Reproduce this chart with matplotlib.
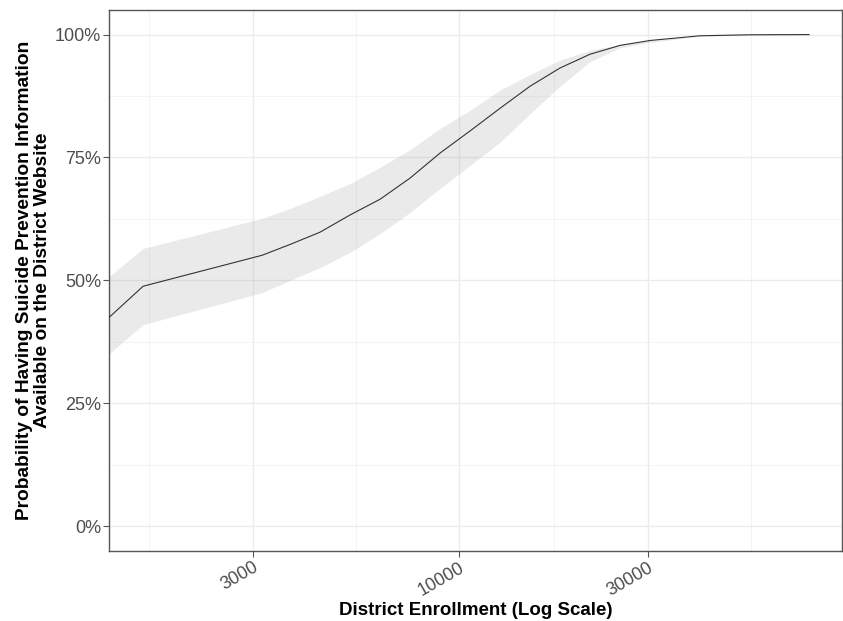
import numpy as np
import matplotlib
matplotlib.use("Agg")
from matplotlib import pyplot as plt
from matplotlib.ticker import FixedLocator, FuncFormatter, NullFormatter

plt.rcParams['font.family'] = ['Liberation Sans', 'DejaVu Sans']

# district enrollment (log scale) and predicted probability with its band
enrollment = [1300, 1583, 3167, 3728, 4441, 5290, 6301, 7505, 8940, 10650,
              12680, 15110, 17990, 21430, 25530, 30410, 40690, 54470, 76850]
prob = [0.425, 0.488, 0.551, 0.573, 0.598, 0.633, 0.665, 0.708, 0.759, 0.804,
        0.850, 0.895, 0.932, 0.960, 0.978, 0.988, 0.9975, 0.9996, 1.000]
prob_hi = [0.508, 0.565, 0.626, 0.646, 0.671, 0.697, 0.730, 0.766, 0.809, 0.846,
           0.887, 0.919, 0.948, 0.968, 0.980, 0.988, 0.9975, 1.000, 1.000]
prob_lo = [0.351, 0.410, 0.475, 0.500, 0.526, 0.557, 0.595, 0.638, 0.687, 0.734,
           0.781, 0.839, 0.895, 0.945, 0.973, 0.984, 0.997, 0.999, 1.000]

x_breaks = [3000, 10000, 30000]
x_minor = [1643, 5477, 17321, 54772]
y_breaks = [0, 0.25, 0.5, 0.75, 1.0]
y_minor = [0.125, 0.375, 0.625, 0.875]

fig = plt.figure(figsize=(8.43, 6.21), dpi=100)
ax = fig.add_axes([109.3 / 843, 1 - 550.7 / 621, (842 - 109.3) / 843, (550.7 - 10) / 621])

ax.set_xscale('log')
ax.set_xlim(1300, 93100)
ax.set_ylim(-0.05, 1.05)

ax.fill_between(enrollment, prob_lo, prob_hi, color='#999999', alpha=0.2, lw=0, zorder=2)
ax.plot(enrollment, prob, color='#333333', lw=0.8, zorder=3)

ax.xaxis.set_major_locator(FixedLocator(x_breaks))
ax.xaxis.set_minor_locator(FixedLocator(x_minor))
ax.xaxis.set_major_formatter(FuncFormatter(lambda v, p: '%d' % v))
ax.xaxis.set_minor_formatter(NullFormatter())
ax.yaxis.set_major_locator(FixedLocator(y_breaks))
ax.yaxis.set_minor_locator(FixedLocator(y_minor))
ax.yaxis.set_major_formatter(FuncFormatter(lambda v, p: '%d%%' % round(v * 100)))

ax.grid(which='major', color='#EBEBEB', lw=1.0, zorder=0)
ax.grid(which='minor', color='#F2F2F2', lw=0.6, zorder=0)
ax.set_axisbelow(True)

for s in ax.spines.values():
    s.set_color('#555555')
    s.set_linewidth(1.0)

ax.tick_params(which='major', length=4, width=0.8, color='#555555',
               labelsize=13, labelcolor='#4D4D4D', pad=2)
ax.tick_params(which='minor', length=0)
for lab in ax.get_xticklabels():
    lab.set_rotation(30)
    lab.set_ha('right')
    lab.set_rotation_mode('anchor')

ax.set_xlabel('District Enrollment (Log Scale)', fontsize=13.5, fontweight='bold', labelpad=2)
ax.set_ylabel('Probability of Having Suicide Prevention Information\nAvailable on the District Website',
              fontsize=13.8, fontweight='bold', labelpad=3, linespacing=1.05)

fig.savefig('out.png', dpi=100)
